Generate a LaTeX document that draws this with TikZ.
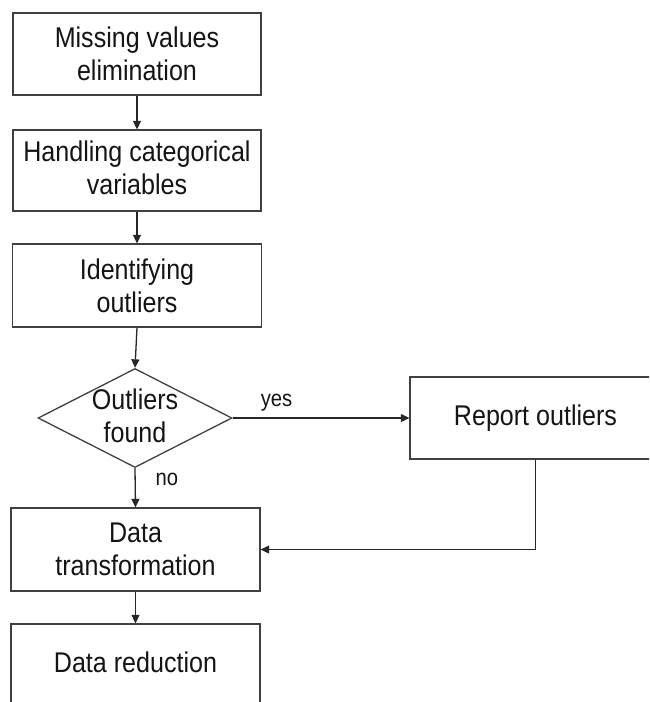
\documentclass[tikz,border=0pt]{standalone}
\usepackage{fontspec}
\setmainfont[FakeStretch=0.88]{Liberation Sans}
\usetikzlibrary{arrows.meta,shapes.geometric}
\begin{document}
\begin{tikzpicture}[x=1pt,y=-1pt,
  box/.style={draw=black!75, line width=1.3pt, rectangle, inner sep=0pt,
    align=center, text=black!92, font=\fontsize{28.5}{33}\selectfont},
  decision/.style={draw=black!75, line width=1.3pt, diamond, inner sep=0pt,
    minimum width=194pt, minimum height=99pt},
  txt/.style={text=black!92, align=center, inner sep=0pt,
    font=\fontsize{28.5}{33}\selectfont},
  lbl/.style={text=black!92, inner sep=0pt, font=\fontsize{23}{26}\selectfont},
  flow/.style={draw=black!85, line width=1.3pt,
    -{Triangle[length=8.5pt,width=8pt]}}
]
\useasboundingbox (0,0) rectangle (649,702);
\clip (0,0) rectangle (649,702);

% main column of processing steps
\node[box, minimum width=248pt, minimum height=82pt] (b1) at (137,54) {Missing values\\elimination};
\node[box, minimum width=248pt, minimum height=81pt] (b2) at (137,170.5) {};
\node[txt] (b2t) at (137,168) {Handling categorical\\variables};
\node[box, minimum width=249pt, minimum height=83pt] (b3) at (137,285.5) {Identifying\\outliers};

% decision
\node[decision] (d) at (135,418) {};
\node[txt] (dt) at (135,415.5) {Outliers\\found};

% side branch
\node[box, minimum width=251pt, minimum height=82pt] (rep) at (535.5,418) {Report outliers};

% lower steps
\node[box, minimum width=249pt, minimum height=83pt] (b4) at (135.5,549.5) {Data\\transformation};
\node[box, minimum width=249pt, minimum height=86pt] (b5) at (135.5,667) {};
\node[txt] (b5t) at (135.5,662.5) {Data reduction};

% connectors
\draw[flow] (b1) -- (b2);
\draw[flow] (b2) -- (b3);
\draw[flow] (b3.south) -- (d.north);
\draw[flow] (d.east) -- (rep.west);
\draw[flow] (d.south) -- (b4.north);
\draw[flow] (rep.south) |- (b4.east);
\draw[flow] (b4) -- (b5);

% branch labels
\node[lbl] (yes) at (276.5,403) {yes};
\node[lbl] (no) at (167,479) {no};
\end{tikzpicture}
\end{document}
